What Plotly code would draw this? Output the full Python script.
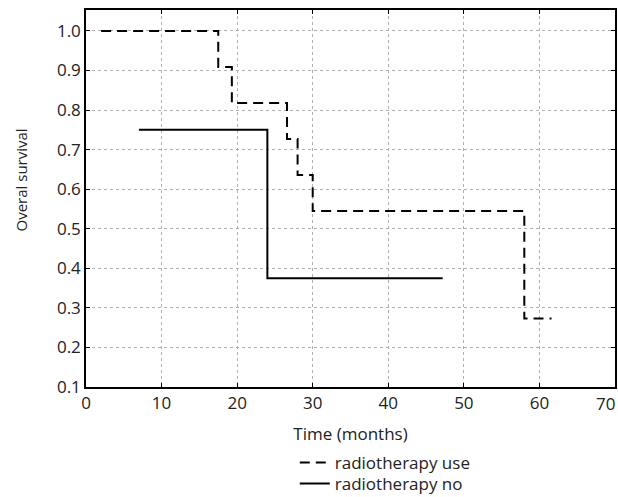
import plotly.graph_objects as go

# Kaplan-Meier step data
rt_use_time = [2, 17.5, 19.3, 26.6, 28.0, 30.0, 58.0, 61.6]
rt_use_surv = [1.0, 0.909, 0.818, 0.727, 0.636, 0.545, 0.273, 0.273]
rt_no_time = [7, 24.0, 47.2]
rt_no_surv = [0.75, 0.375, 0.375]

x_ticks = [0, 10, 20, 30, 40, 50, 60, 70]
x_labels = ["0", "10", "20", "30", "40", "50", "60", ""]
last_x_label = "70"
y_ticks = [0.1, 0.2, 0.3, 0.4, 0.5, 0.6, 0.7, 0.8, 0.9, 1.0]
y_labels = [f"{v:.1f}" for v in y_ticks]

font_family = "Open Sans"
FS = 17
TXT = "#222222"

fig = go.Figure()
fig.add_trace(go.Scatter(
    x=rt_use_time, y=rt_use_surv, mode="lines", line_shape="hv",
    line=dict(color="black", width=2, dash="10px,6px"),
    name="radiotherapy use", legend="legend"))
fig.add_trace(go.Scatter(
    x=rt_no_time, y=rt_no_surv, mode="lines", line_shape="hv",
    line=dict(color="black", width=2),
    name="radiotherapy no", legend="legend2"))

axis_common = dict(
    showline=True, linecolor="black", linewidth=1.5, mirror="allticks",
    ticks="inside", ticklen=4, tickcolor="black",
    showgrid=True, gridcolor="#b0b0b0", griddash="dot", gridwidth=1,
    zeroline=False, tickfont=dict(size=FS, color=TXT), automargin=False,
)

fig.update_xaxes(range=[0, 70], tickvals=x_ticks, ticktext=x_labels,
                 title=dict(text="Time (months)", font=dict(size=FS, color=TXT), standoff=15),
                 **axis_common)
fig.update_yaxes(range=[0.1, 1.053], tickvals=y_ticks, ticktext=y_labels,
                 **axis_common)

# last x tick label sits flush against the right edge, as in the original
fig.add_annotation(text=last_x_label, xref="x", yref="paper", x=x_ticks[-1], y=0,
                   xanchor="right", yanchor="middle", xshift=2, yshift=-16,
                   showarrow=False, font=dict(size=FS, color=TXT))

fig.add_annotation(text="Overal survival", textangle=-90, xref="paper", yref="paper",
                   x=-0.122, y=0.549, showarrow=False, xanchor="center", yanchor="middle",
                   font=dict(size=15, color=TXT))

legend_common = dict(xref="container", yref="container", x=0.477,
                     xanchor="left", yanchor="middle", orientation="v",
                     font=dict(size=FS, color=TXT), bgcolor="rgba(0,0,0,0)",
                     itemwidth=30)

fig.update_layout(
    width=618, height=497,
    margin=dict(l=86, r=3, t=10, b=110, autoexpand=False),
    paper_bgcolor="white", plot_bgcolor="white",
    font=dict(family=font_family, color=TXT),
    showlegend=True,
    legend=dict(y=1 - 463 / 497, **legend_common),
    legend2=dict(y=1 - 484 / 497, **legend_common),
)

# remove the default page margin so the figure fills the window exactly
fig.write_html("out.html", config={"displayModeBar": False},
               post_script="document.body.style.margin='0';document.body.style.overflow='hidden';")
